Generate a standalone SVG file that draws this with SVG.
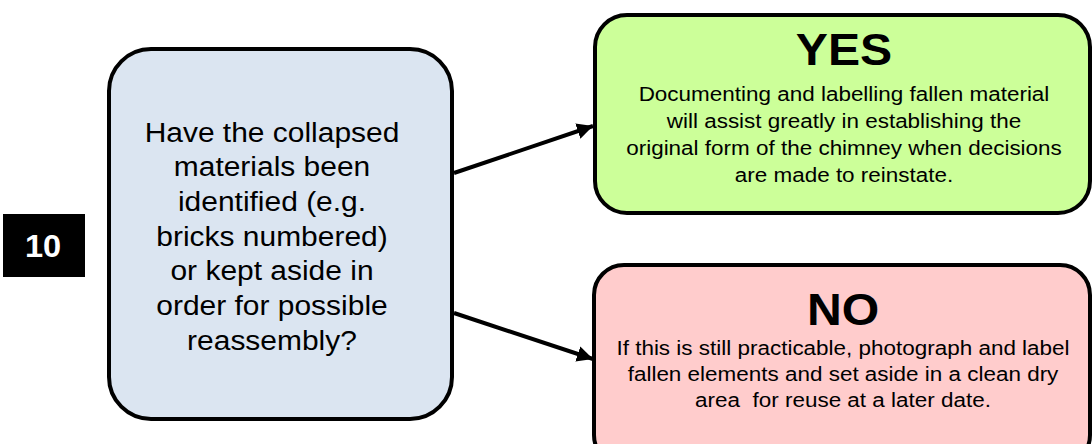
<svg xmlns="http://www.w3.org/2000/svg" width="1092" height="444" viewBox="0 0 1092 444">
  <style>
    .box { stroke: #000; stroke-width: 4; }
    .q { fill: #dbe5f1; }
    .yes { fill: #ccff99; }
    .no { fill: #ffcccc; }
    text { font-family: "Liberation Sans", Arial, sans-serif; fill: #000; text-anchor: middle; }
    .body { font-size: 21px; }
    .qtext { font-size: 28px; }
    .title { font-size: 45px; font-weight: bold; }
    .num { font-size: 31px; font-weight: bold; fill: #fff; }
    .conn { stroke: #000; stroke-width: 4; fill: none; }
  </style>
  <defs>
    <marker id="arrow" markerUnits="userSpaceOnUse" markerWidth="18" markerHeight="16" refX="16" refY="8" orient="auto">
      <path d="M0,0 L16,8 L0,16 Z" fill="#000"/>
    </marker>
  </defs>

  <rect width="1092" height="444" fill="#fff"/>

  <!-- step number -->
  <g id="step-number">
    <rect x="3" y="214" width="82" height="63" fill="#000"/>
    <g transform="translate(43,0) scale(1.05,1)">
      <text class="num" x="0" y="257.5">10</text>
    </g>
  </g>

  <!-- question -->
  <g id="question">
    <rect class="box q" x="109" y="49" width="343" height="370" rx="42" ry="42"/>
    <g transform="translate(272,0) scale(1.07,1)">
      <text class="qtext" x="0" y="141.7">Have the collapsed</text>
      <text class="qtext" x="0" y="176.4">materials been</text>
      <text class="qtext" x="0" y="211.1">identified (e.g.</text>
      <text class="qtext" x="0" y="245.8">bricks numbered)</text>
      <text class="qtext" x="0" y="280.5">or kept aside in</text>
      <text class="qtext" x="0" y="315.2">order for possible</text>
      <text class="qtext" x="0" y="349.9">reassembly?</text>
    </g>
  </g>

  <!-- yes outcome -->
  <g id="yes">
    <rect class="box yes" x="595" y="15" width="495" height="198" rx="32" ry="32"/>
    <g transform="translate(844,0) scale(1.07,1)">
      <text class="title" x="0" y="65">YES</text>
      <text class="body" x="0" y="101.5">Documenting and labelling fallen material</text>
      <text class="body" x="0" y="128.5">will assist greatly in establishing the</text>
      <text class="body" x="0" y="155.5">original form of the chimney when decisions</text>
      <text class="body" x="0" y="182.5">are made to reinstate.</text>
    </g>
  </g>

  <!-- no outcome -->
  <g id="no">
    <rect class="box no" x="594" y="265" width="496" height="200" rx="30" ry="30"/>
    <g transform="translate(843,0) scale(1.07,1)">
      <text class="title" x="0" y="325">NO</text>
      <text class="body" x="0" y="355.5" xml:space="preserve">If this is still practicable, photograph and label</text>
      <text class="body" x="0" y="381.5">fallen elements and set aside in a clean dry</text>
      <text class="body" x="0" y="407" xml:space="preserve">area  for reuse at a later date.</text>
    </g>
  </g>

  <!-- connectors -->
  <g id="connectors">
    <line class="conn" x1="454" y1="173" x2="593" y2="126" marker-end="url(#arrow)"/>
    <line class="conn" x1="454" y1="313" x2="593" y2="359" marker-end="url(#arrow)"/>
  </g>
</svg>
